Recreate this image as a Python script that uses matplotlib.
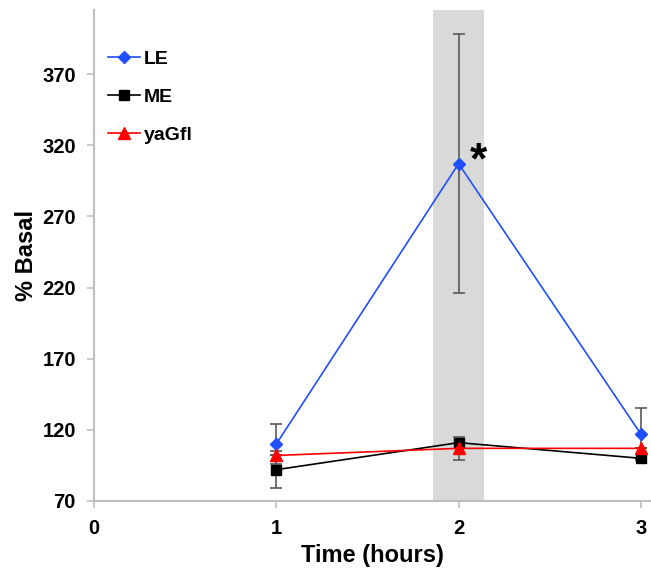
import matplotlib
matplotlib.use("Agg")
import matplotlib.pyplot as plt

plt.rcParams['font.family'] = ['Liberation Sans', 'DejaVu Sans']

time = [1, 2, 3]
le = [110, 307, 117]
le_err = [14, 91, 18]
me = [92, 111, 100]
me_err = [13, 0, 0]
yagfl = [102, 107, 107]
yagfl_err = [0, 8, 0]
x_ticks = [0, 1, 2, 3]
y_ticks = [70, 120, 170, 220, 270, 320, 370]

fig = plt.figure(figsize=(6.51, 5.69), dpi=100)
ax = fig.add_axes([94/651, 1-501/569, (650-94)/651, (501-10)/569])

ax.axvspan(1.86, 2.14, color='#d9d9d9', lw=0, zorder=0)

ecol = '#595959'
for vals, errs in [(le, le_err), (me, me_err), (yagfl, yagfl_err)]:
    ax.errorbar(time, vals, yerr=errs, fmt='none', ecolor=ecol, elinewidth=1.2,
                capsize=4, capthick=1.2, zorder=2)

ax.plot(time, le, color='#1f4fff', marker='D', markersize=6.5, lw=1.2, label='LE', zorder=3)
ax.plot(time, me, color='black', marker='s', markersize=7.5, lw=1.2, label='ME', zorder=3)
ax.plot(time, yagfl, color='#ff0000', marker='^', markersize=8, lw=1.2, label='yaGfl', zorder=4)

ax.text(2.06, 308, '*', fontsize=32, fontweight='bold', ha='left', va='center')

ax.set_xlim(0, 3.05)
ax.set_ylim(70, 415)
ax.set_xticks(x_ticks)
ax.set_yticks(y_ticks)
for lab in ax.get_xticklabels() + ax.get_yticklabels():
    lab.set_fontweight('bold')
    lab.set_fontsize(14.5)
ax.tick_params(axis='both', color='#bfbfbf', length=5, width=1.2, direction='out', pad=8)
for s in ['top', 'right']:
    ax.spines[s].set_visible(False)
for s in ['left', 'bottom']:
    ax.spines[s].set_color('#bfbfbf')
    ax.spines[s].set_linewidth(1.5)

ax.set_xlabel('Time (hours)', fontsize=17, fontweight='bold', labelpad=4)
ax.set_ylabel('% Basal', fontsize=17, fontweight='bold', labelpad=3)

leg = ax.legend(loc='upper left', frameon=False, prop={'weight': 'bold', 'size': 14},
                labelspacing=1.05, handlelength=1.65, handletextpad=0.2,
                bbox_to_anchor=(0.0, 0.945), borderaxespad=0.3)

fig.savefig('out.png', dpi=100)
